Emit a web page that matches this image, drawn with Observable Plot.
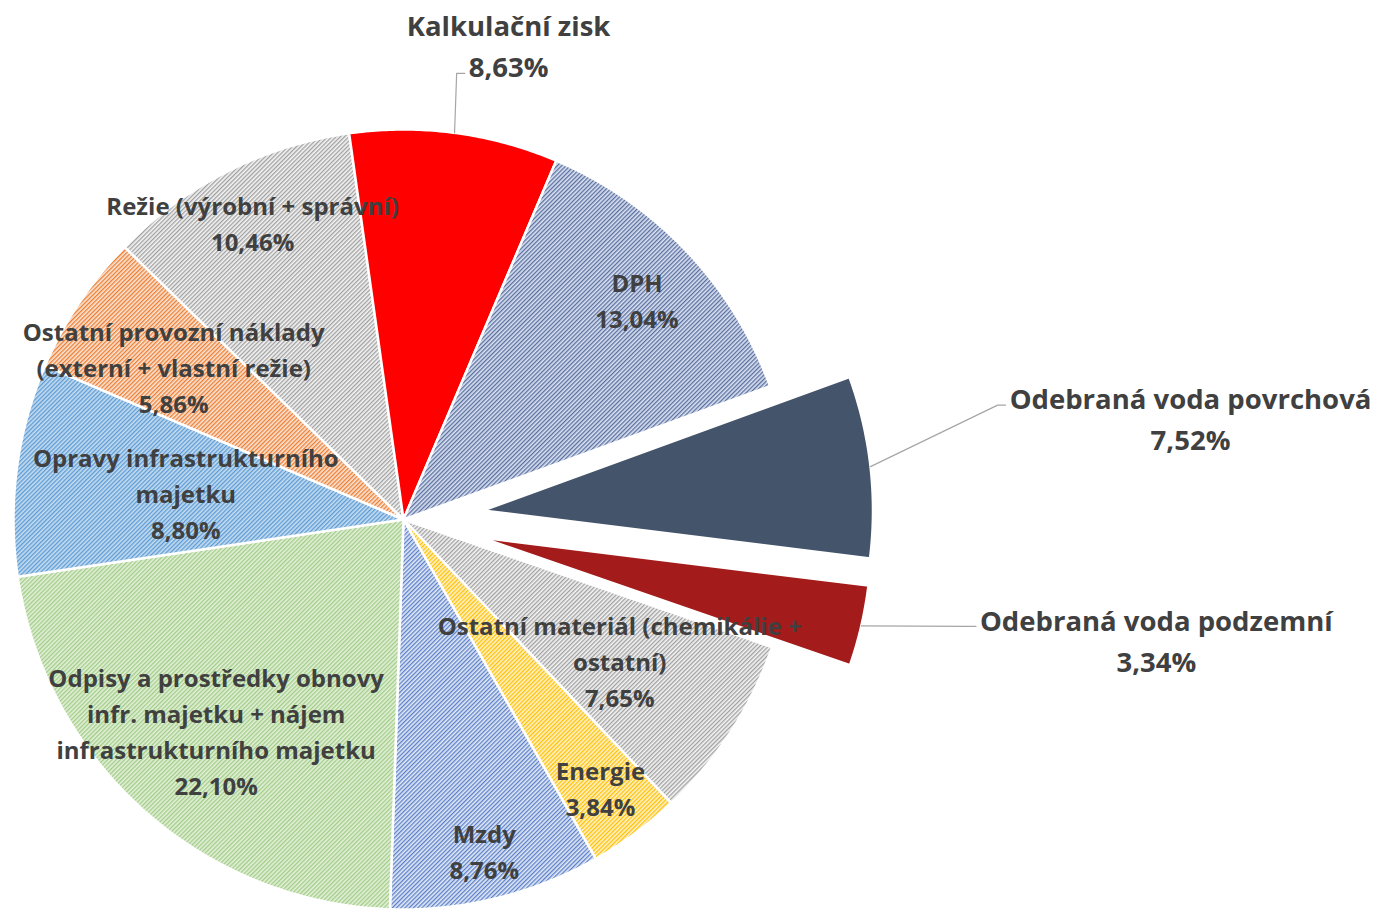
<!DOCTYPE html>
<html><head><meta charset="utf-8">
<script src="https://cdn.jsdelivr.net/npm/d3@7"></script>
<script src="https://cdn.jsdelivr.net/npm/@observablehq/plot@0.6"></script>
<style>html,body{margin:0;padding:0;background:#fff;} svg{display:block}</style>
</head><body><div id="chart"></div>
<script>
// ---- Data (Excel series order; the first slice starts at 70° clockwise from the top) ----
const categories = [
  "Odebraná voda povrchová",
  "Odebraná voda podzemní",
  "Ostatní materiál (chemikálie + ostatní)",
  "Energie",
  "Mzdy",
  "Odpisy a prostředky obnovy infr. majetku + nájem infrastrukturního majetku",
  "Opravy infrastrukturního majetku",
  "Ostatní provozní náklady (externí + vlastní režie)",
  "Režie (výrobní + správní)",
  "Kalkulační zisk",
  "DPH"
];
const labelLines = [
  ["Odebraná voda povrchová"],
  ["Odebraná voda podzemní"],
  ["Ostatní materiál (chemikálie +", "ostatní)"],
  ["Energie"],
  ["Mzdy"],
  ["Odpisy a prostředky obnovy", "infr. majetku + nájem", "infrastrukturního majetku"],
  ["Opravy infrastrukturního", "majetku"],
  ["Ostatní provozní náklady", "(externí + vlastní režie)"],
  ["Režie (výrobní + správní)"],
  ["Kalkulační zisk"],
  ["DPH"]
];
const shares = [7.52, 3.34, 7.65, 3.84, 8.76, 22.10, 8.80, 5.86, 10.46, 8.63, 13.04];

// ---- Styles ----
const sliceStyles = [
  {solid: "#44546A"},
  {solid: "#A31B1B"},
  {bg: "#F4F4F4", fg: "#A0A0A0"},
  {bg: "#FFF2CC", fg: "#FFC000"},
  {bg: "#E2E9F6", fg: "#5B80C8"},
  {bg: "#E2F0D9", fg: "#A2CC86"},
  {bg: "#C5DCF0", fg: "#5B9BD5"},
  {bg: "#FBE5D6", fg: "#ED7D31"},
  {bg: "#F4F4F4", fg: "#A0A0A0"},
  {solid: "#FF0000"},
  {bg: "#DAE2F2", fg: "#5A6E9E"}
];
const textColor = "#404040";
const leaderColor = "#A6A6A6";
const fontFamily = "'Open Sans'";

// ---- Layout ----
const W = 1381, H = 911;
const layout = {
  cx: 403, cy: 519, R: 390, startAngle: 70,
  explode: [80, 80, 0, 0, 0, 0, 0, 0, 0, 0, 0],
  // inside label distance from centre, as fraction of radius (null = outside label)
  labelRadius: [null, null, 0.66, 0.85, 0.87, 0.721, 0.563, 0.709, 0.857, null, 0.825],
  // outside labels: px offset of label-block centre from slice edge, line the leader attaches to
  outside: {0: [320, -50, 0], 1: [295, 12, 0], 9: [54, -89, 1]},
  inFont: 24, inLine: 36, outFont: 27.5, outLine: 41
};

const k = layout.R;
const xDomain = [-layout.cx / k, (W - layout.cx) / k];
const yDomain = [-(H - layout.cy) / k, layout.cy / k];
const fmt = v => v.toFixed(2).replace(".", ",") + "%";
const deg = Math.PI / 180;
const total = d3.sum(shares);

const polyPoints = [];
const insideLabels = [];
const outsideLabels = [];
const leaderPoints = [];
const ctx = document.createElement("canvas").getContext("2d");
const textWidth = (s, size) => { ctx.font = `700 ${size}px ${fontFamily}`; return ctx.measureText(s).width; };

let acc = 0;
categories.forEach((name, i) => {
  const a0 = layout.startAngle + acc / total * 360;
  acc += shares[i];
  const a1 = layout.startAngle + acc / total * 360;
  const mid = (a0 + a1) / 2;
  const ux = Math.sin(mid * deg), uy = Math.cos(mid * deg);
  const off = layout.explode[i] / k;
  const cx = off * ux, cy = off * uy;
  const fill = sliceStyles[i].fg ? `url(#hatch${i})` : sliceStyles[i].solid;
  polyPoints.push({name, x: cx, y: cy, fill});
  const n = Math.max(2, Math.ceil((a1 - a0) / 0.5));
  for (let j = 0; j <= n; j++) {
    const a = (a0 + (a1 - a0) * j / n) * deg;
    polyPoints.push({name, x: cx + Math.sin(a), y: cy + Math.cos(a), fill});
  }
  polyPoints.push({name, x: cx, y: cy, fill});

  const lines = [...labelLines[i], fmt(shares[i])];
  const text = lines.join("\n");
  const r = layout.labelRadius[i];
  if (r != null) {
    insideLabels.push({name, text, x: cx + r * ux, y: cy + r * uy});
  } else {
    const [dx, dy, attach] = layout.outside[i];
    const ex = cx + ux, ey = cy + uy; // slice edge at mid angle (units)
    const lx = ex + dx / k, ly = ey - dy / k; // label centre (units)
    outsideLabels.push({name, text, x: lx, y: ly});
    const Lpx = layout.outLine, fs = layout.outFont;
    const lcxPx = layout.cx + lx * k, lcyPx = layout.cy - ly * k;
    const lineY = lcyPx - (lines.length - 1) / 2 * Lpx + attach * Lpx + 0.33 * fs;
    const endX = lcxPx - textWidth(lines[attach], fs) / 2 - 4;
    const elbowX = endX - 8;
    const toU = (px, py) => ({x: (px - layout.cx) / k, y: (layout.cy - py) / k});
    leaderPoints.push({name, x: ex, y: ey});
    leaderPoints.push({name, ...toU(elbowX, lineY)});
    leaderPoints.push({name, ...toU(endX, lineY)});
  }
});

const svg = Plot.plot({
  width: W, height: H, margin: 0,
  style: {fontFamily: `${fontFamily}, sans-serif`, background: "#fff"},
  x: {domain: xDomain, axis: null},
  y: {domain: yDomain, axis: null},
  color: {type: "identity"},
  marks: [
    Plot.line(polyPoints, {x: "x", y: "y", z: "name", fill: "fill", stroke: "white", strokeWidth: 2.5, curve: "linear", strokeLinejoin: "round"}),
    Plot.line(leaderPoints, {x: "x", y: "y", z: "name", stroke: leaderColor, strokeWidth: 1.2, curve: "linear"}),
    Plot.text(insideLabels, {x: "x", y: "y", text: "text", fill: textColor, fontSize: layout.inFont, fontWeight: 700, fontFamily, lineHeight: layout.inLine / layout.inFont, lineAnchor: "middle", textAnchor: "middle"}),
    Plot.text(outsideLabels, {x: "x", y: "y", text: "text", fill: textColor, fontSize: layout.outFont, fontWeight: 700, fontFamily, lineHeight: layout.outLine / layout.outFont, lineAnchor: "middle", textAnchor: "middle"})
  ]
});

// hatch patterns (styling only)
const defs = d3.select(svg).insert("defs", ":first-child");
sliceStyles.forEach((s, i) => {
  if (!s.fg) return;
  const p = defs.append("pattern").attr("id", `hatch${i}`).attr("patternUnits", "userSpaceOnUse")
    .attr("width", 3).attr("height", 3).attr("patternTransform", "rotate(45)");
  p.append("rect").attr("width", 3).attr("height", 3).attr("fill", s.bg);
  p.append("rect").attr("width", 1.3).attr("height", 3).attr("fill", s.fg);
});

document.getElementById("chart").appendChild(svg);
</script>
</body></html>
